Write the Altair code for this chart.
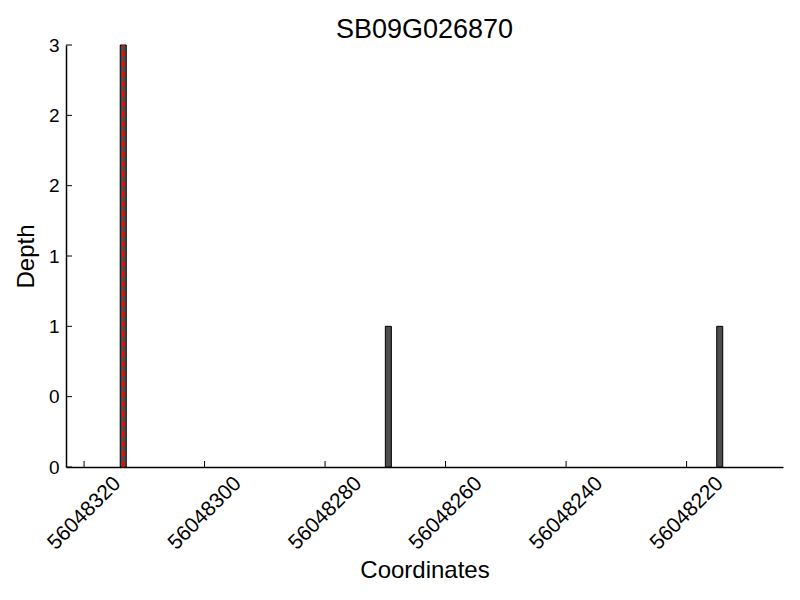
import altair as alt
import pandas as pd

# Data
starts = [56048314, 56048270, 56048215]
ends = [56048313, 56048269, 56048214]
depths = [3, 1, 1]
marker_pos = [56048313.5]
x_ticks = [56048320, 56048300, 56048280, 56048260, 56048240, 56048220]
y_ticks = [0, 0.5, 1, 1.5, 2, 2.5, 3]

W, H = 717, 422
FONT = "Liberation Sans"

df = pd.DataFrame({"start": starts, "end": ends, "depth": depths, "base": [0] * len(depths)})
df_mark = pd.DataFrame({"pos": marker_pos, "lo": [0], "hi": [3]})
df_xt = pd.DataFrame({"t": x_ticks})
df_yt = pd.DataFrame({"t": y_ticks})

xscale = alt.Scale(domain=[56048204, 56048323], reverse=True, zero=False, nice=False)
yscale = alt.Scale(domain=[0, 3], nice=False, zero=True)

xaxis = alt.Axis(
    values=x_ticks, format="d", labelAngle=-45, labelAlign="center",
    labelBaseline="middle", labelPadding=46, tickSize=0, grid=False,
    labelFontSize=21, labelFont=FONT, labelColor="black",
    domainColor="black", domainWidth=1.5,
    title="Coordinates", titleFontSize=24, titleFont=FONT, titleFontWeight="normal",
    titleColor="black", titleBaseline="alphabetic", titleY=110, titleAnchor="middle",
)
yaxis = alt.Axis(
    values=y_ticks, labelExpr="floor(datum.value)", tickSize=0, grid=False,
    labelFontSize=19, labelFont=FONT, labelColor="black", labelPadding=7,
    domainColor="black", domainWidth=1.5,
    title="Depth", titleFontSize=24, titleFont=FONT, titleFontWeight="normal",
    titleColor="black", titleAngle=-90, titleBaseline="alphabetic", titleX=-33,
    titleY=H / 2, titleAlign="center",
)

bars = alt.Chart(df).mark_rect(color="#4d4d4d", stroke="black", strokeWidth=1).encode(
    x=alt.X("start:Q", scale=xscale, axis=xaxis),
    x2="end:Q",
    y=alt.Y("depth:Q", scale=yscale, axis=yaxis),
    y2="base:Q",
)

marker = alt.Chart(df_mark).mark_rule(color="red", strokeWidth=2.5, strokeDash=[6, 4]).encode(
    x=alt.X("pos:Q", scale=xscale),
    y=alt.Y("lo:Q", scale=yscale),
    y2="hi:Q",
)

xt = alt.Chart(df_xt).mark_rule(color="black", strokeWidth=1).encode(
    x=alt.X("t:Q", scale=xscale),
    y=alt.value(H),
    y2=alt.value(H - 6),
)
yt = alt.Chart(df_yt).mark_rule(color="black", strokeWidth=1).encode(
    y=alt.Y("t:Q", scale=yscale),
    x=alt.value(0),
    x2=alt.value(6),
)

chart = alt.layer(bars, marker, xt, yt).properties(
    width=W, height=H,
    title=alt.TitleParams("SB09G026870", fontSize=27, font=FONT, fontWeight="normal",
                          color="black", anchor="middle", frame="group", offset=-8),
    autosize=alt.AutoSizeParams(type="none"),
    padding={"left": 58, "top": 37, "right": 1, "bottom": 120},
).configure_view(stroke=None)

chart.save("out.html", embed_options={"renderer": "svg", "actions": False})
